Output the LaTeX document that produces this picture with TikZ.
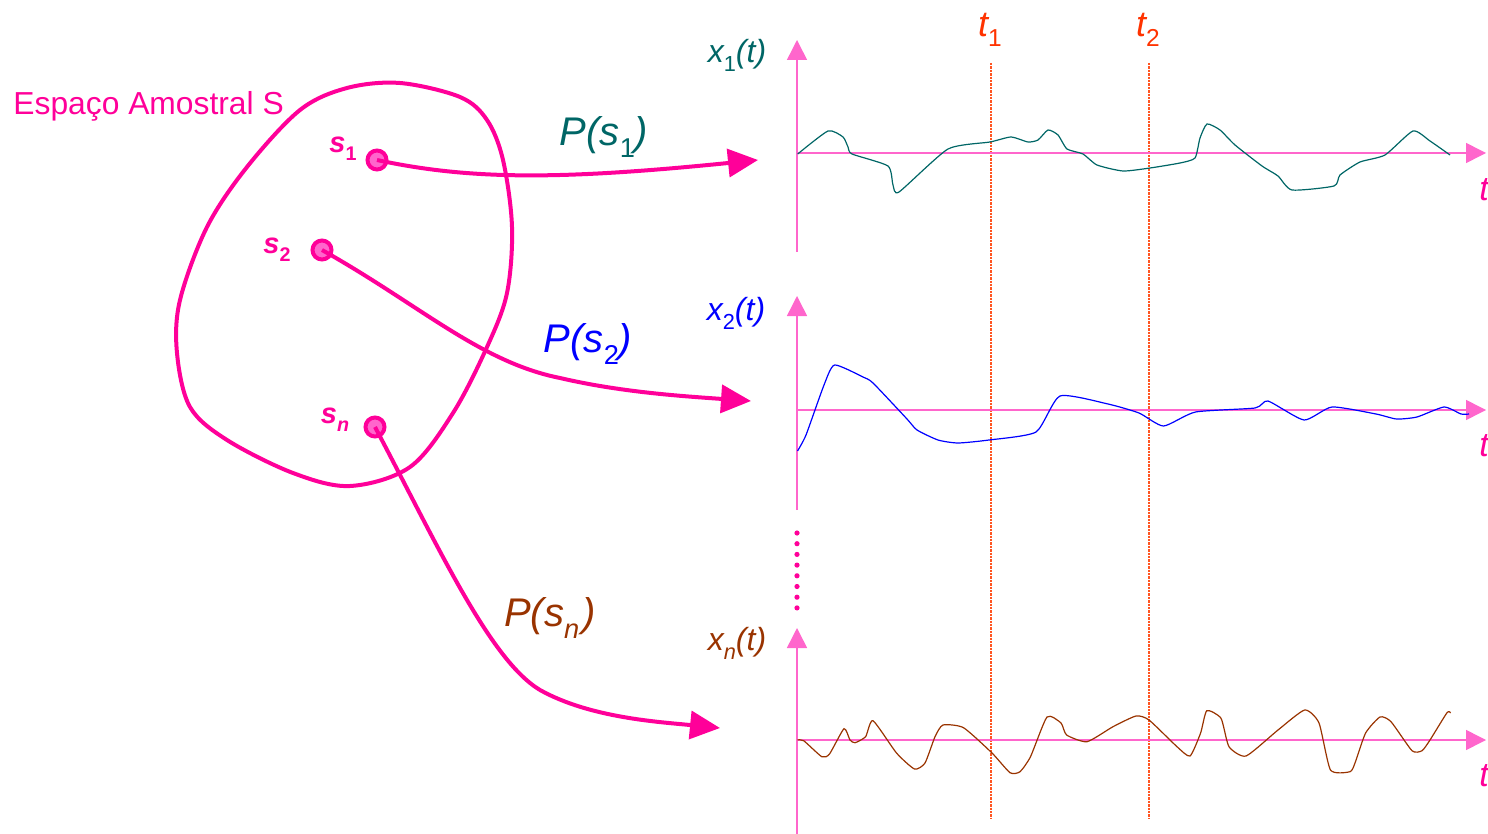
\documentclass[tikz,border=0pt]{standalone}
\usepackage{fontspec}
\setmainfont{Liberation Sans}
\usetikzlibrary{arrows.meta}
\definecolor{mpink}{HTML}{FF0099}
\definecolor{lpink}{HTML}{FF66CC}
\definecolor{fillpink}{HTML}{FF66CC}
\definecolor{teal1}{HTML}{006666}
\definecolor{blue2}{HTML}{0000FF}
\definecolor{brownn}{HTML}{993300}
\definecolor{tred}{HTML}{FF3300}
\definecolor{tline}{HTML}{FF5522}
\newcommand\sbs[1]{\raisebox{-0.28em}{\scalebox{0.68}{\upshape #1}}}
\tikzset{
  dotnode/.style={circle,draw=mpink,fill=fillpink,line width=2pt,minimum size=9.5pt,inner sep=0pt},
  maparrow/.style={draw=mpink,line width=2pt,-{Triangle[length=15pt,width=14pt]}},
  axis/.style={draw=lpink,line width=0.75pt,-{Triangle[length=10pt,width=10pt]}},
  tmark/.style={draw=tline,line width=0.55pt,dash pattern=on 1.2pt off 0.5pt},
  wave/.style={line width=0.6pt,smooth,tension=0.35},
  slabel/.style={text=mpink,font=\fontsize{14.5}{16}\selectfont\bfseries\itshape,inner sep=0pt},
  plabel/.style={font=\fontsize{20}{24}\selectfont,inner sep=0pt},
  xlabel/.style={font=\fontsize{16}{19}\selectfont,inner sep=0pt},
  tlabel/.style={text=tred,font=\fontsize{18}{21}\selectfont,inner sep=0pt},
  taxis/.style={text=mpink,font=\fontsize{17}{20}\selectfont\itshape,inner sep=0pt,anchor=west},
}
\begin{document}
\begin{tikzpicture}[x=0.5pt,y=-0.5pt]
\useasboundingbox (0,0) rectangle (1488,834);
% sample space
\node[text=mpink,font=\fontsize{15.9}{18}\selectfont,anchor=base west,inner sep=0pt] (title) at (13,115) {Espaço Amostral S};
\draw[mpink,line width=2pt] plot[smooth cycle,tension=0.55] coordinates {(400,83) (460,97) (487,120) (503,160) (512,227) (507,293) (487,347) (453,413) (410,467) (350,486) (293,473) (227,440) (190,407) (177,353) (180,300) (207,227) (247,167) (300,110) (347,88)};
% t lines
\draw[tmark] (991,63) coordinate (t1top) -- (991,818) coordinate (t1bot);
\draw[tmark] (1149,63) coordinate (t2top) -- (1149,818) coordinate (t2bot);
\node[tlabel] (t1lab) at (990,30) {\itshape t\sbs{1}};
\node[tlabel] (t2lab) at (1148,30) {\itshape t\sbs{2}};
% axes
\coordinate (o1) at (797,153); \coordinate (o2) at (797,410); \coordinate (o3) at (797,740);
\draw[axis] (797,252) coordinate (b1) -- (797,40) coordinate (top1);
\draw[axis] (797,153) -- (1486,153) coordinate (r1);
\draw[axis] (797,510) coordinate (b2) -- (797,296) coordinate (top2);
\draw[axis] (797,410) -- (1486,410) coordinate (r2);
\draw[axis] (797,834) coordinate (b3) -- (797,628) coordinate (top3);
\draw[axis] (797,740) -- (1486,740) coordinate (r3);
\foreach \k in {0,...,7} \fill[mpink] (797,533+10.7*\k) circle (2.6);
\node[taxis] (ta1) at (1479,190) {t};
\node[taxis] (ta2) at (1479,446) {t};
\node[taxis] (ta3) at (1479,776) {t};
% axis labels
\node[xlabel,text=teal1] (xl1) at (737,55) {\itshape x\sbs{1}(t)};
\node[xlabel,text=blue2] (xl2) at (736,313) {\itshape x\sbs{2}(t)};
\node[xlabel,text=brownn] (xl3) at (737,643) {\itshape x\sbs{\itshape n}(t)};
% waves
\draw[teal1,wave] plot coordinates {(797.7,154) (828,131) (843,137) (848,147) (852,154) (888,166) (893,185) (899,192) (948,149) (990,142) (1011,137) (1028,142) (1038,140) (1048,130) (1058,135) (1067,149) (1083,154) (1097,165) (1123,171) (1150,168) (1180,163) (1195,158) (1200,138) (1207,124) (1220,130) (1235,145) (1262,166) (1278,176) (1292,190) (1334,186) (1340,175) (1360,162) (1385,155) (1413,131) (1430,141) (1450,155)};
\draw[blue2,wave] plot coordinates {(797.5,451) (806,435) (824,385) (834.6,365) (863,377) (873,383) (907,419) (917,430) (938,440) (958,443) (989,440) (1036,432) (1060,396) (1108,404) (1139,413) (1163.5,426) (1195.5,412) (1255,408) (1268,401) (1304,420) (1332,407) (1376,414) (1396.5,419) (1417,417) (1444,407) (1461,414) (1469,414)};
\draw[brownn,wave] plot coordinates {(797.5,740) (803.7,740.7) (821.8,756.7) (829.5,754) (844,728.7) (850,740) (855,742.7) (865.6,736.7) (873,720.7) (896.5,753) (914.5,769) (925,763) (935,736.7) (943,725) (963.5,727.7) (992,753) (1010,772.7) (1020,771.7) (1030.5,756.7) (1047,717) (1061,723) (1066.6,735) (1087,741.7) (1113,726.7) (1136,716) (1149,720) (1177,746.7) (1190,756) (1200.6,733) (1206.8,710.7) (1221,718.3) (1229,746.7) (1246,756) (1278,730) (1304.7,710) (1319,723) (1330.5,770) (1350,771.7) (1355,763) (1365.6,733) (1380,717) (1391,721.7) (1412,750.7) (1422,750.7) (1430,740) (1447,712.7) (1450.6,713)};
% sample points
\node[dotnode] (s1) at (377,160) {};
\node[dotnode] (s2) at (322,250) {};
\node[dotnode] (sn) at (375,427) {};
\node[slabel] (s1lab) at (343,149) {s\sbs{1}};
\node[slabel] (s2lab) at (277,250) {s\sbs{2}};
\node[slabel] (snlab) at (335,420) {s\sbs{\itshape n}};
% mapping arrows
\coordinate (e1) at (758,160);
\coordinate (e2) at (751,401);
\coordinate (en) at (720,728);
\draw[maparrow] (s1.center) .. controls (470,180) and (560,180) .. (e1);
\draw[maparrow] (s2.center) .. controls (420,305) and (480,362) .. (560,378) .. controls (620,392) and (680,396) .. (e2);
\draw[maparrow] (sn.center) .. controls (440,550) and (490,660) .. (540,690) .. controls (590,718) and (660,722) .. (en);
\node[plabel,text=teal1] (p1) at (604,137) {\itshape P(s\/\sbs{1})};
\node[plabel,text=blue2] (p2) at (588,344) {\itshape P(s\/\sbs{2})};
\node[plabel,text=brownn] (pn) at (550,618) {\itshape P(s\/\sbs{\itshape n}\kern0.08em)};
\end{tikzpicture}
\end{document}
